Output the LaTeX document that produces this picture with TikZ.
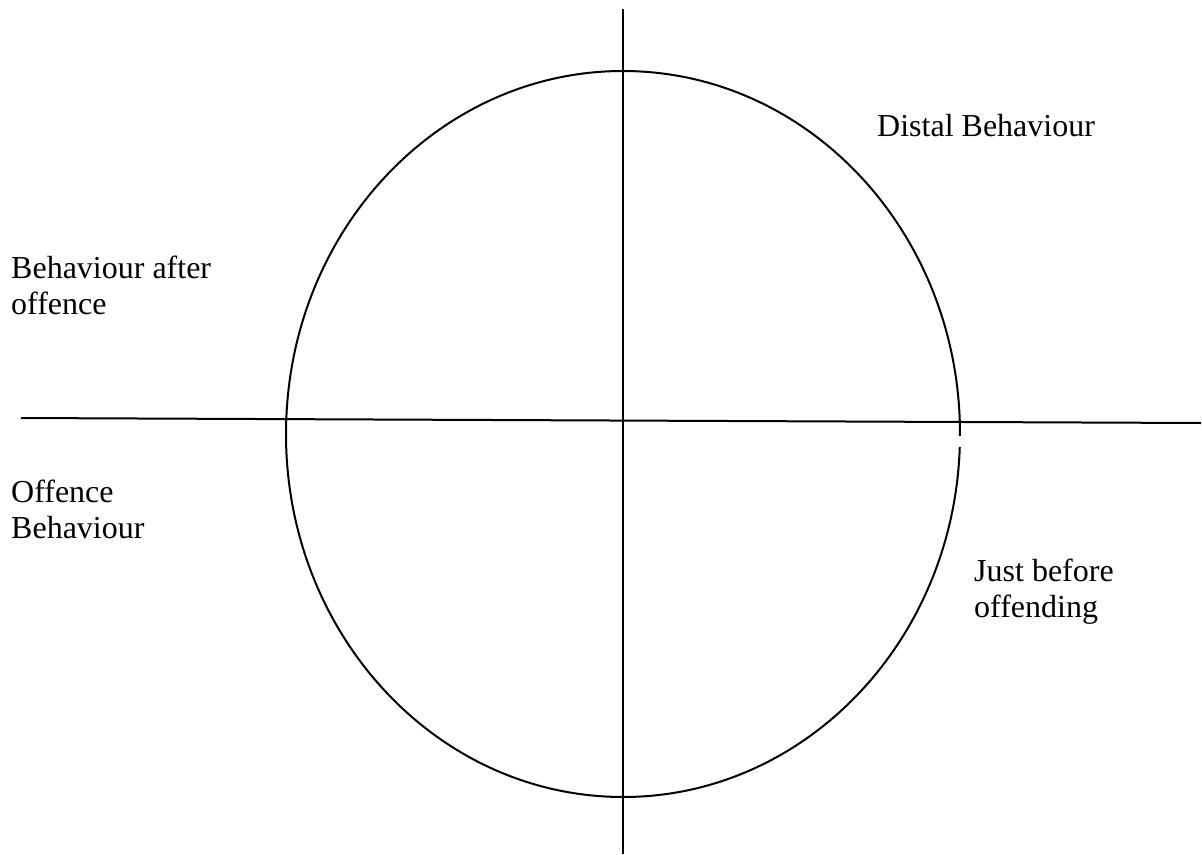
\documentclass[tikz,border=0pt]{standalone}
\usepackage{fontspec}
\setmainfont{Liberation Serif}
\tikzset{
  axis/.style={line width=2pt, black},
  ring/.style={line width=2pt, black},
  lbl/.style={anchor=base west, inner sep=0pt, align=left,
              font=\fontsize{32}{35.5}\selectfont}
}
\begin{document}
\begin{tikzpicture}[x=1pt,y=-1pt]
\useasboundingbox (0,0) rectangle (1202,854);
\coordinate (c) at (623,434);
\coordinate (hl) at (21,418);
\coordinate (hr) at (1201,423);
\coordinate (vt) at (623,9);
\coordinate (vb) at (623,854);
\draw[axis] (hl) -- (hr);
\draw[axis] (vt) -- (vb);
\draw[ring] (c) ++(2.05:337 and 363) arc[start angle=2.05, end angle=360.3, x radius=337, y radius=363];
\node[lbl] (distal) at (877,136) {Distal Behaviour};
\node[lbl] (after) at (11,314) {Behaviour after\\offence};
\node[lbl] (offence) at (11,538) {Offence\\Behaviour};
\node[lbl] (just) at (974,617) {Just before\\offending};
\end{tikzpicture}
\end{document}
